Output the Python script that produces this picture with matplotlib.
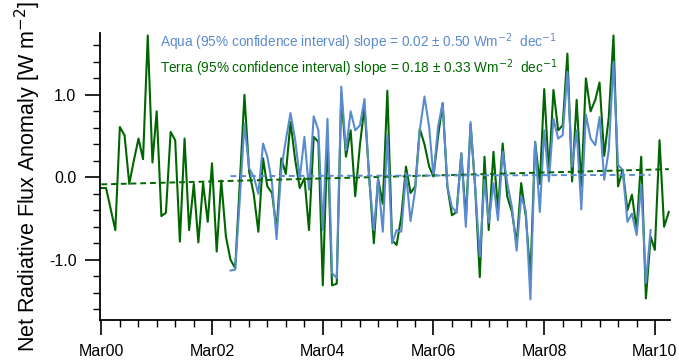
import numpy as np
import pandas as pd
import matplotlib
matplotlib.use("Agg")
import matplotlib.pyplot as plt
import matplotlib.dates as mdates

# monthly anomalies, Terra from Mar 2000, Aqua from Jul 2002
terra_start = "2000-03-01"
aqua_start = "2002-07-01"

terra = [-0.13, -0.13, -0.38, -0.64, 0.61, 0.51, -0.08, 0.20, 0.47, 0.22,
         1.72, 0.18, 0.80, -0.47, -0.43, 0.55, 0.45, -0.78, 0.47, -0.64,
         -0.08, -0.79, -0.07, -0.54, 0.17, -0.90, -0.04, -0.72, -1.00, -1.10,
         -0.05, 1.00, 0.07, -0.20, -0.66, 0.23, -0.11, -0.19, -0.64, 0.23,
         0.04, 0.67, 0.21, -0.13, -0.01, -0.64, 0.49, 0.43, -1.31, 0.50,
         -1.31, -1.29, 1.00, 0.25, 0.57, -0.23, 0.39, 0.86, 0.01, -0.80,
         -0.02, -0.32, 1.05, -0.76, -0.82, -0.48, 0.13, -0.19, -0.11, 0.59,
         0.40, 0.13, 0.01, 0.50, 0.90, -0.11, -0.46, -0.42, 0.29, -0.50,
         0.64, -0.11, -1.21, 0.25, -0.64, 0.31, -0.39, 0.41, -0.23, -0.42,
         -0.80, -0.07, -0.48, -1.20, 0.43, -0.08, 1.07, 0.05, 1.06, 0.57,
         0.63, 1.50, -0.05, 0.94, -0.11, 1.20, 0.80, 0.94, 1.15, 0.26,
         0.73, 1.72, -0.11, 0.09, -0.40, -0.21, -0.64, 0.25, -1.47, -0.72,
         -0.88, 0.45, -0.60, -0.42]

aqua = [-1.13, -1.12, -0.25, 0.65, 0.11, 0.01, -0.20, 0.41, 0.25, -0.07,
        -0.75, 0.09, 0.45, 0.78, 0.45, -0.01, 0.49, -0.15, 0.74, 0.57,
        -0.64, 0.71, -1.16, -1.22, 1.10, 0.33, 0.80, 0.57, 0.63, 0.95,
        -0.01, -0.64, -0.02, -0.66, 0.51, -0.80, -0.64, -0.66, 0.05, -0.53,
        -0.15, 0.57, 0.98, 0.61, 0.01, 0.62, 0.90, -0.11, -0.36, -0.43,
        0.29, -0.60, 0.67, -0.11, -0.96, -0.03, -0.55, -0.07, -0.52, 0.31,
        -0.07, -0.36, -0.89, -0.23, -0.41, -1.48, 0.43, -0.42, 0.57, -0.05,
        0.71, 0.47, 0.51, 1.28, 0.13, 0.57, -0.39, 0.76, 0.47, 0.39,
        0.73, -0.03, 0.33, 1.40, 0.15, 0.09, -0.54, -0.44, -0.70, -0.09,
        -1.28, -0.64]

# trend slopes quoted in the legend (W m-2 per decade)
aqua_slope = 0.02
terra_slope = 0.18

aqua_col = "#5b8bcf"
terra_col = "#006600"

plt.rcParams['font.family'] = ['Liberation Sans', 'DejaVu Sans']
plt.rcParams['axes.unicode_minus'] = False

t_dates = pd.date_range(terra_start, periods=len(terra), freq="MS")
a_dates = pd.date_range(aqua_start, periods=len(aqua), freq="MS")


def trend(dates, vals, slope):
    yrs = np.asarray(dates.year + (dates.month - 1) / 12.0, dtype=float)
    v = np.asarray(vals)
    b = v.mean() - slope / 10.0 * yrs.mean()
    return b + slope / 10.0 * yrs


fig = plt.figure(figsize=(6.79, 3.63), dpi=100)
ax = fig.add_axes([100 / 679, 1 - 320 / 363, 570 / 679, 287 / 363])

ax.plot(t_dates, terra, color=terra_col, lw=1.5, zorder=2)
ax.plot(a_dates, aqua, color=aqua_col, lw=1.5, zorder=3)
ax.plot(t_dates, trend(t_dates, terra, terra_slope), color=terra_col,
        lw=1.4, ls=(0, (3, 2)), zorder=4)
ax.plot(a_dates, trend(a_dates, aqua, aqua_slope), color=aqua_col,
        lw=1.4, ls=(0, (3, 2)), zorder=4)

ax.set_xlim(pd.Timestamp("2000-02-21"), pd.Timestamp("2010-06-09"))
ax.set_ylim(-1.73, 1.75)

ax.xaxis.set_major_locator(mdates.YearLocator(2, month=3, day=1))
ax.xaxis.set_minor_locator(mdates.MonthLocator(bymonth=[3, 7, 11]))
ax.xaxis.set_major_formatter(mdates.DateFormatter("%b%y"))
ax.set_yticks([-1.0, 0.0, 1.0])
ax.set_yticks(np.arange(-1.6, 1.61, 0.2), minor=True)
ax.set_yticklabels(["-1.0", "0.0", "1.0"])

for s in ["top", "right"]:
    ax.spines[s].set_visible(False)
for s in ["left", "bottom"]:
    ax.spines[s].set_linewidth(1.3)

ax.tick_params(which="major", length=11, width=1.2, labelsize=11.5, pad=6)
ax.tick_params(which="minor", length=5, width=1.0)
ax.set_ylabel("Net Radiative Flux Anomaly [W m$^{-2}$]", fontsize=15.5, labelpad=4)

fig.text(160 / 679, 1 - 42 / 363,
         "Aqua (95% confidence interval) slope = 0.02 \u00b1 0.50 Wm$^{-2}$  dec$^{-1}$",
         color=aqua_col, fontsize=9.8, va="center")
fig.text(160 / 679, 1 - 68 / 363,
         "Terra (95% confidence interval) slope = 0.18 \u00b1 0.33 Wm$^{-2}$  dec$^{-1}$",
         color=terra_col, fontsize=9.8, va="center")

fig.savefig("out.png", dpi=100)
